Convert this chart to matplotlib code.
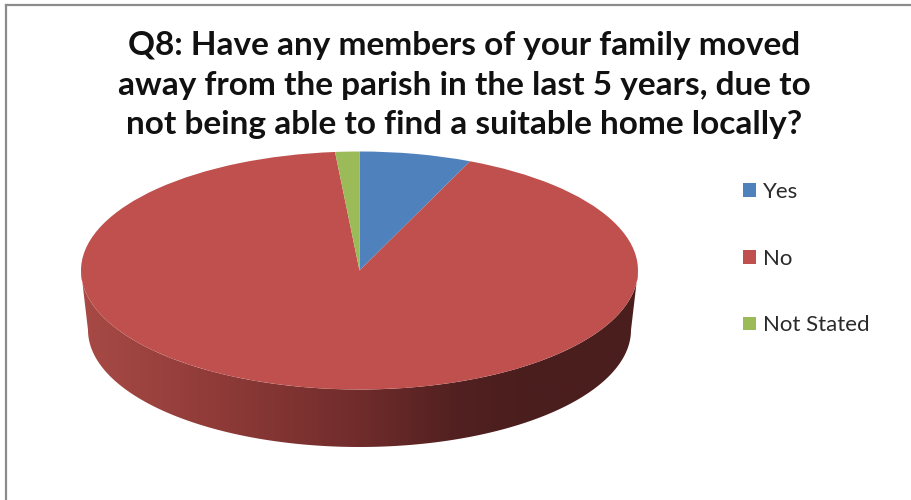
import numpy as np
import matplotlib
matplotlib.use("Agg")
import matplotlib.pyplot as plt
from matplotlib.colors import LinearSegmentedColormap
from matplotlib.lines import Line2D
from matplotlib.patches import Polygon

plt.rcParams['font.family'] = ['Lato', 'DejaVu Sans']

categories = ["Yes", "No", "Not Stated"]
values = [6.5, 92.1, 1.4]
colors = ["#4F81BD", "#C0504D", "#9BBB59"]
title = ("Q8: Have any members of your family moved\n"
         "away from the parish in the last 5 years, due to\n"
         "not being able to find a suitable home locally?")

W, H = 912, 500
CX, CY, RX, RY = 359.5, 270.5, 278.5, 119.0   # pie top ellipse, pixels

fig = plt.figure(figsize=(W / 100, H / 100), dpi=100, facecolor="white")
ax = fig.add_axes([0, 0, 1, 1])

# Pie top drawn as a normal pie, then squashed by the axes limits
wedges, _ = ax.pie(values, colors=colors, startangle=90, counterclock=False,
                   radius=1, wedgeprops={"linewidth": 0})
for w in wedges:
    w.set_zorder(3)

# Side wall: a horizontal gradient clipped to the rim outline
rx2 = 271.5 / RX
ry2 = 117.0 / RY
dy2 = 59.5 / RY
phi = np.linspace(0, np.pi, 241)
outline = np.vstack([
    np.column_stack([np.cos(phi), -np.sin(phi)]),
    np.column_stack([rx2 * np.cos(phi[::-1]), -dy2 - ry2 * np.sin(phi[::-1])]),
])
clip = Polygon(outline, closed=True, transform=ax.transData, facecolor="none",
               edgecolor="none")
ax.add_patch(clip)
side_cmap = LinearSegmentedColormap.from_list("side", [
    (0.0, "#A84A46"), (0.225, "#913C39"), (0.5, "#702C2B"),
    (0.675, "#522020"), (0.8, "#4B1E1E"), (1.0, "#4B1E1E")])
img = ax.imshow(np.linspace(0, 1, 512)[None, :], cmap=side_cmap,
                extent=(-1, 1, -2, 0.2), aspect="auto", zorder=2,
                interpolation="bilinear")
img.set_clip_path(clip)

ax.set_aspect("auto")
ax.set_xlim(-CX / RX, (W - CX) / RX)
ax.set_ylim((CY - H) / RY, CY / RY)
ax.axis("off")

# Title and legend
fig.text(464 / W, 1 - 85 / H, title, ha="center", va="center", fontsize=24,
         fontweight="bold", color="#111111", linespacing=1.43)

leg = ax.legend(wedges, categories, loc="upper left",
                bbox_to_anchor=(743 / W, 1 - 182 / H),
                bbox_transform=fig.transFigure, frameon=False, fontsize=16,
                handlelength=0.58, handleheight=0.58, handletextpad=0.32,
                labelspacing=2.1, labelcolor="#2a2a2a", borderpad=0,
                borderaxespad=0)

# Chart frame: only top and left edges are visible in the crop
frame = "#8c8c8c"
fig.add_artist(Line2D([6 / W, 6 / W], [0, 1 - 5 / H], color=frame, lw=1.6))
fig.add_artist(Line2D([6 / W, 1], [1 - 5 / H, 1 - 5 / H], color=frame, lw=1.6))

fig.savefig("out.png", dpi=100, facecolor="white")
